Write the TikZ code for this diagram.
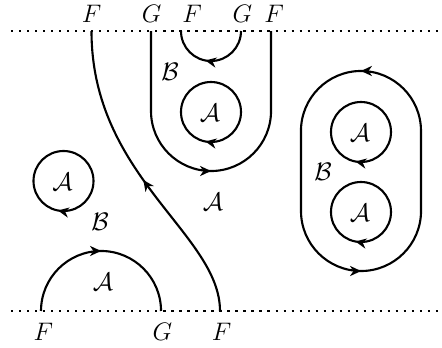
\documentclass[tikz,border=0pt]{standalone}
\usetikzlibrary{arrows.meta,decorations.markings}
\tikzset{
  curve/.style={line width=1pt},
  dotline/.style={line width=1.05pt, dash pattern=on 1.05pt off 2.75pt},
  lbl/.style={font=\fontsize{12.8}{15}\selectfont, inner sep=0pt},
  arrowat/.style={postaction={decorate},decoration={markings,mark=at position #1 with {\arrow{Stealth[length=5.2pt,width=4.8pt,inset=1.6pt]}}}},
  arrowtwo/.style n args={2}{postaction={decorate},decoration={markings,
     mark=at position #1 with {\arrow{Stealth[length=5.2pt,width=4.8pt,inset=1.6pt]}},
     mark=at position #2 with {\arrow{Stealth[length=5.2pt,width=4.8pt,inset=1.6pt]}}}},
}
\begin{document}
\begin{tikzpicture}[x=0.0166667cm,y=0.0166667cm]
\useasboundingbox (0,0) rectangle (442,348);
% boundary lines
\coordinate (tl) at (11,317); \coordinate (tr) at (438,317);
\coordinate (bl) at (11,37); \coordinate (br) at (438,37);
\draw[dotline] (tl) -- (tr);
\draw[dotline] (bl) -- (br);
% end points
\coordinate (t1) at (91.5,317);
\coordinate (t2) at (151,317);
\coordinate (t3) at (181,317);
\coordinate (t4) at (241,317);
\coordinate (t5) at (271,317);
\coordinate (b1) at (41,37);
\coordinate (b2) at (161,37);
\coordinate (b3) at (220,37);
% end labels
\node[lbl,anchor=base] (lt1) at (91.5,326) {$F$};
\node[lbl,anchor=base] (lt2) at (151.7,326) {$G$};
\node[lbl,anchor=base] (lt3) at (192,326) {$F$};
\node[lbl,anchor=base] (lt4) at (242.5,326) {$G$};
\node[lbl,anchor=base] (lt5) at (274,326) {$F$};
\node[lbl,anchor=base] (lb1) at (43.3,7) {$F$};
\node[lbl,anchor=base] (lb2) at (162.5,7) {$G$};
\node[lbl,anchor=base] (lb3) at (221.7,7) {$F$};
% region labels
\node[lbl] (rb1) at (170,276) {$\mathcal{B}$};
\node[lbl] (ra1) at (210,235) {$\mathcal{A}$};
\node[lbl] (ra2) at (62.5,166) {$\mathcal{A}$};
\node[lbl] (rb2) at (100,126) {$\mathcal{B}$};
\node[lbl] (ra3) at (213,146) {$\mathcal{A}$};
\node[lbl] (ra4) at (103,66) {$\mathcal{A}$};
\node[lbl] (ra5) at (360,215) {$\mathcal{A}$};
\node[lbl] (ra6) at (360,135) {$\mathcal{A}$};
\node[lbl] (rb3) at (323,176) {$\mathcal{B}$};
% curves
\draw[curve,arrowat=0.49] (b3) .. controls (220,114) and (91.5,171) .. (t1);
\draw[curve,arrowat=0.5] (t2) -- (151,237) arc[start angle=180,end angle=360,radius=1cm] -- (t5);
\draw[curve,arrowat=0.56] (t4) arc[start angle=0,end angle=-180,radius=0.5cm];
\draw[curve,arrowat=0.5] (b1) arc[start angle=180,end angle=0,radius=1cm];
\draw[curve,arrowat=0.53] (211,266) arc[start angle=90,end angle=-270,radius=0.5cm];
\draw[curve,arrowat=0.53] (63.5,197) arc[start angle=90,end angle=-270,radius=0.5cm];
\draw[curve,arrowtwo={0.3245}{0.8245}] (421,137) -- (421,217) arc[start angle=0,end angle=180,radius=1cm] -- (301,137) arc[start angle=180,end angle=360,radius=1cm] -- cycle;
\draw[curve,arrowat=0.53] (361,246) arc[start angle=90,end angle=-270,radius=0.5cm];
\draw[curve,arrowat=0.53] (361,166) arc[start angle=90,end angle=-270,radius=0.5cm];
\end{tikzpicture}
\end{document}
